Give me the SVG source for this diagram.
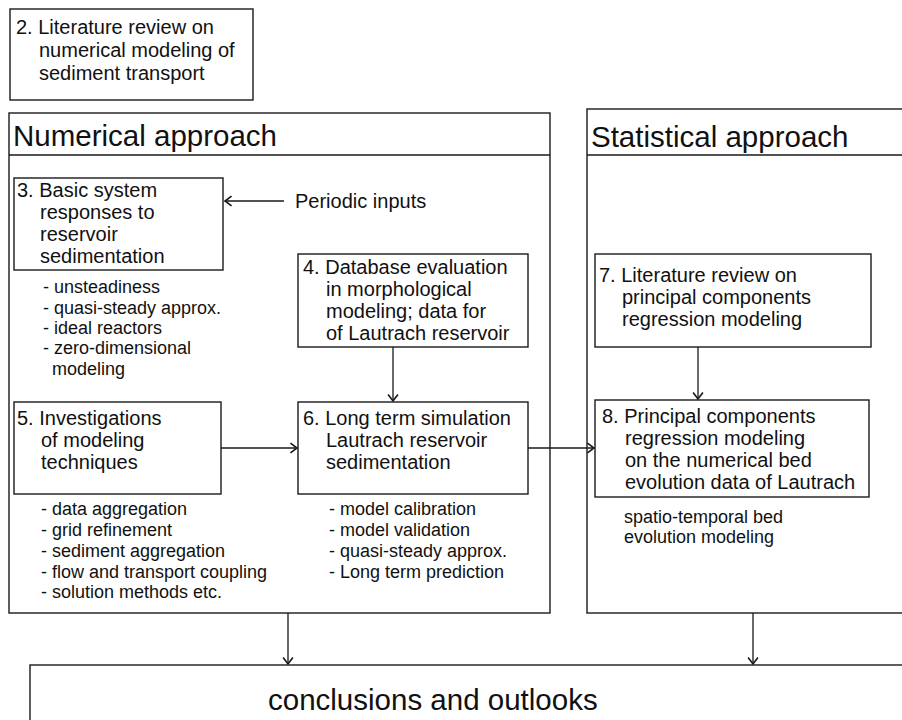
<svg xmlns="http://www.w3.org/2000/svg" width="902" height="720" viewBox="0 0 902 720">
<style>
  .box { fill: #fff; stroke: #1a1a1a; stroke-width: 1.4; }
  .ln { stroke: #1a1a1a; stroke-width: 1.4; fill: none; }
  .t { font-family: "Liberation Sans", Arial, sans-serif; font-size: 20px; fill: #111; }
  .s { font-family: "Liberation Sans", Arial, sans-serif; font-size: 18px; fill: #111; }
  .h { font-family: "Liberation Sans", Arial, sans-serif; font-size: 29.5px; fill: #111; }
  .conn { stroke: #1a1a1a; stroke-width: 1.3; fill: none; marker-end: url(#arr); }
</style>
<defs>
  <marker id="arr" markerUnits="userSpaceOnUse" markerWidth="10" markerHeight="12" refX="6" refY="4.5" orient="auto" viewBox="-1 -1 8 11">
    <path d="M0,0 L6,4.5 L0,9" fill="none" stroke="#1a1a1a" stroke-width="1.5"/>
  </marker>
</defs>
<rect width="902" height="720" fill="#fff"/>

<g id="node2">
  <rect class="box" x="10" y="9" width="243" height="91"/>
  <text class="t" x="16" y="34">2. Literature review on<tspan x="39" y="57">numerical modeling of</tspan><tspan x="39" y="80">sediment transport</tspan></text>
</g>

<g id="numerical">
  <rect class="box" x="9" y="113" width="541" height="500"/>
  <line class="ln" x1="9" y1="155" x2="550" y2="155"/>
  <text class="h" x="13" y="146">Numerical approach</text>
</g>

<g id="statistical">
  <rect class="box" x="587" y="109" width="330" height="504"/>
  <line class="ln" x1="587" y1="155" x2="902" y2="155"/>
  <text class="h" x="591" y="147">Statistical approach</text>
</g>

<g id="node3">
  <rect class="box" x="14" y="178" width="209" height="92"/>
  <text class="t" x="17" y="197">3. Basic system<tspan x="40" y="219">responses to</tspan><tspan x="40" y="241">reservoir</tspan><tspan x="40" y="263">sedimentation</tspan></text>
  <text class="s" x="43" y="293">- unsteadiness<tspan x="43" y="314">- quasi-steady approx.</tspan><tspan x="43" y="334">- ideal reactors</tspan><tspan x="43" y="354">- zero-dimensional</tspan><tspan x="52" y="375">modeling</tspan></text>
</g>

<g id="periodic">
  <text class="t" x="295" y="208">Periodic inputs</text>
</g>

<g id="node4">
  <rect class="box" x="298" y="254" width="230" height="93"/>
  <text class="t" x="303" y="274">4. Database evaluation<tspan x="326" y="296">in morphological</tspan><tspan x="326" y="318">modeling; data for</tspan><tspan x="326" y="340">of  Lautrach reservoir</tspan></text>
</g>

<g id="node5">
  <rect class="box" x="14" y="402" width="207" height="92"/>
  <text class="t" x="17" y="425">5. Investigations<tspan x="41" y="447">of modeling</tspan><tspan x="41" y="469">techniques</tspan></text>
  <text class="s" x="41" y="515">- data aggregation<tspan x="41" y="536">- grid refinement</tspan><tspan x="41" y="557">- sediment aggregation</tspan><tspan x="41" y="578">- flow and transport coupling</tspan><tspan x="41" y="598">- solution methods etc.</tspan></text>
</g>

<g id="node6">
  <rect class="box" x="298" y="402" width="230" height="92"/>
  <text class="t" x="303" y="425">6. Long term simulation<tspan x="326" y="447">Lautrach reservoir</tspan><tspan x="326" y="469">sedimentation</tspan></text>
  <text class="s" x="329" y="515">- model calibration<tspan x="329" y="536">- model validation</tspan><tspan x="329" y="557">- quasi-steady approx.</tspan><tspan x="329" y="578">- Long term prediction</tspan></text>
</g>

<g id="node7">
  <rect class="box" x="595" y="254" width="276" height="93"/>
  <text class="t" x="599" y="282">7. Literature review on<tspan x="622" y="304">principal components</tspan><tspan x="622" y="326">regression modeling</tspan></text>
</g>

<g id="node8">
  <rect class="box" x="595" y="400" width="274" height="97"/>
  <text class="t" x="602" y="423">8. Principal components<tspan x="625" y="445">regression modeling</tspan><tspan x="625" y="467">on the numerical bed</tspan><tspan x="625" y="489">evolution data of Lautrach</tspan></text>
  <text class="s" x="624" y="523">spatio-temporal bed<tspan x="624" y="543">evolution modeling</tspan></text>
</g>

<g id="conclusions">
  <rect class="box" x="30" y="665" width="900" height="100"/>
  <text class="h" x="268" y="710">conclusions and outlooks</text>
</g>

<g id="connectors">
  <line class="conn" x1="284" y1="201" x2="225" y2="201"/>
  <line class="conn" x1="393" y1="347" x2="393" y2="401"/>
  <line class="conn" x1="221" y1="448" x2="297" y2="448"/>
  <line class="conn" x1="528" y1="448" x2="594" y2="448"/>
  <line class="conn" x1="698" y1="347" x2="698" y2="399"/>
  <line class="conn" x1="288" y1="613" x2="288" y2="664"/>
  <line class="conn" x1="753" y1="613" x2="753" y2="664"/>
</g>
</svg>
